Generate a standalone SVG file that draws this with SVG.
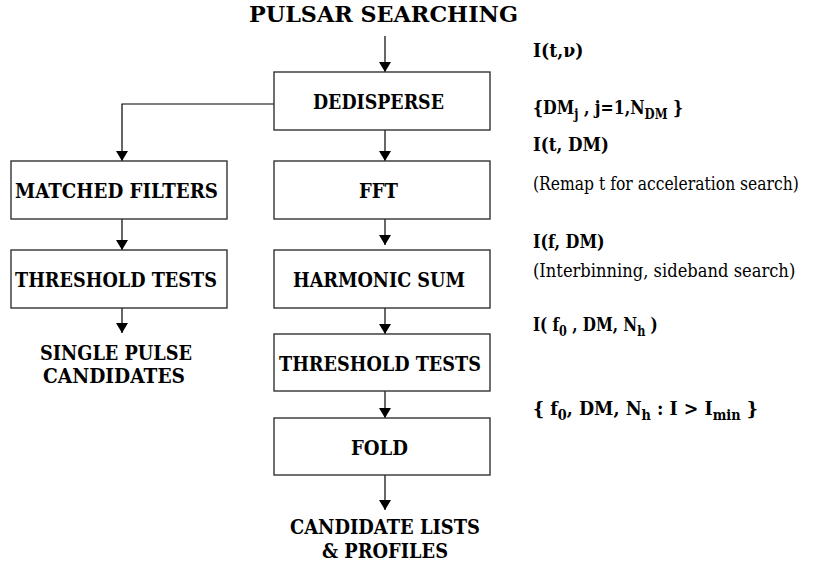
<svg xmlns="http://www.w3.org/2000/svg" width="819" height="565" viewBox="0 0 819 565">
  <style>
    .box { fill: #ffffff; stroke: #333333; stroke-width: 1.4; }
    .wire { fill: none; stroke: #000000; stroke-width: 1.2; }
    .lbl { font-weight: bold; font-size: 21px; }
    .out { font-weight: bold; font-size: 20px; }
    .title { font-weight: bold; font-size: 23px; }
    .note { font-weight: bold; font-size: 19px; }
    .plain { font-weight: normal; font-size: 19px; }
    .sub { font-size: 14px; }
  </style>
  <defs>
    <marker id="arrow" viewBox="0 0 10 12" refX="10" refY="6" markerWidth="10" markerHeight="12" markerUnits="userSpaceOnUse" orient="auto">
      <path d="M0,0 L10,6 L0,12 Z" fill="#000000"/>
    </marker>
  </defs>

  <rect width="819" height="565" fill="#ffffff"/>

  <!-- connectors -->
  <g id="connectors">
    <line class="wire" x1="385" y1="36" x2="385" y2="72" marker-end="url(#arrow)"/>
    <polyline class="wire" points="274,104 122,104 122,161" marker-end="url(#arrow)"/>
    <line class="wire" x1="385" y1="130" x2="385" y2="161" marker-end="url(#arrow)"/>
    <line class="wire" x1="122" y1="219" x2="122" y2="250" marker-end="url(#arrow)"/>
    <line class="wire" x1="122" y1="308" x2="122" y2="333" marker-end="url(#arrow)"/>
    <line class="wire" x1="385" y1="219" x2="385" y2="245" marker-end="url(#arrow)"/>
    <line class="wire" x1="385" y1="308" x2="385" y2="334" marker-end="url(#arrow)"/>
    <line class="wire" x1="385" y1="391" x2="385" y2="418" marker-end="url(#arrow)"/>
    <line class="wire" x1="385" y1="475" x2="385" y2="510" marker-end="url(#arrow)"/>
  </g>

  <g font-family="DejaVu Serif, serif" fill="#000000">
  <!-- title -->
  <g id="title">
    <text class="title" x="249" y="22" textLength="269" lengthAdjust="spacingAndGlyphs">PULSAR SEARCHING</text>
  </g>

  <!-- processing stages -->
  <g id="dedisperse">
    <rect class="box" x="274" y="72" width="216" height="58"/>
    <text class="lbl" x="313" y="109" textLength="131" lengthAdjust="spacingAndGlyphs">DEDISPERSE</text>
  </g>
  <g id="matched-filters">
    <rect class="box" x="11" y="161" width="216" height="58"/>
    <text class="lbl" x="15" y="198" textLength="203" lengthAdjust="spacingAndGlyphs">MATCHED FILTERS</text>
  </g>
  <g id="fft">
    <rect class="box" x="274" y="161" width="216" height="58"/>
    <text class="lbl" x="359" y="198" textLength="39" lengthAdjust="spacingAndGlyphs">FFT</text>
  </g>
  <g id="threshold-single">
    <rect class="box" x="11" y="250" width="216" height="58"/>
    <text class="lbl" x="15" y="287" textLength="202" lengthAdjust="spacingAndGlyphs">THRESHOLD TESTS</text>
  </g>
  <g id="harmonic-sum">
    <rect class="box" x="274" y="250" width="216" height="58"/>
    <text class="lbl" x="293" y="287" textLength="172" lengthAdjust="spacingAndGlyphs">HARMONIC SUM</text>
  </g>
  <g id="threshold-periodic">
    <rect class="box" x="274" y="334" width="216" height="57"/>
    <text class="lbl" x="279" y="371" textLength="202" lengthAdjust="spacingAndGlyphs">THRESHOLD TESTS</text>
  </g>
  <g id="fold">
    <rect class="box" x="274" y="418" width="216" height="57"/>
    <text class="lbl" x="351" y="455" textLength="57" lengthAdjust="spacingAndGlyphs">FOLD</text>
  </g>

  <!-- outputs -->
  <g id="single-pulse-candidates">
    <text class="out" x="40" y="360" textLength="152" lengthAdjust="spacingAndGlyphs">SINGLE PULSE</text>
    <text class="out" x="43" y="383" textLength="142" lengthAdjust="spacingAndGlyphs">CANDIDATES</text>
  </g>
  <g id="candidate-lists">
    <text class="out" x="290" y="534" textLength="190" lengthAdjust="spacingAndGlyphs">CANDIDATE LISTS</text>
    <text class="out" x="322" y="558" textLength="126" lengthAdjust="spacingAndGlyphs">&amp; PROFILES</text>
  </g>

  <!-- data products along the periodicity pipeline (narrowed horizontally about x=533) -->
  <g id="annotations">
    <text class="note" x="533" y="57" transform="matrix(0.91,0,0,1,47.97,0)">I(t,ν)</text>
    <text class="note" x="533" y="114" transform="matrix(0.83,0,0,1,90.61,0)">{DM<tspan class="sub" dy="5">j</tspan><tspan dy="-5"> ,  j=1,N</tspan><tspan class="sub" dy="5">DM</tspan><tspan dy="-5"> }</tspan></text>
    <text class="note" x="533" y="151" transform="matrix(0.88,0,0,1,63.96,0)">I(t, DM)</text>
    <text class="plain" x="533" y="190" transform="matrix(0.82,0,0,1,95.94,0)">(Remap t for acceleration search)</text>
    <text class="note" x="533" y="248" transform="matrix(0.84,0,0,1,85.28,0)">I(f, DM)</text>
    <text class="plain" x="533" y="277" transform="matrix(0.86,0,0,1,74.62,0)">(Interbinning, sideband search)</text>
    <text class="note" x="533" y="331" transform="matrix(0.80,0,0,1,106.6,0)">I( f<tspan class="sub" dy="5">0</tspan><tspan dy="-5"> , DM, N</tspan><tspan class="sub" dy="5">h</tspan><tspan dy="-5"> )</tspan></text>
    <text class="note" x="533" y="415" transform="matrix(0.92,0,0,1,42.64,0)">{ f<tspan class="sub" dy="5">0</tspan><tspan dy="-5">, DM, N</tspan><tspan class="sub" dy="5">h</tspan><tspan dy="-5"> :  I &gt; I</tspan><tspan class="sub" dy="5">min</tspan><tspan dy="-5">  }</tspan></text>
  </g>
  </g>
</svg>
